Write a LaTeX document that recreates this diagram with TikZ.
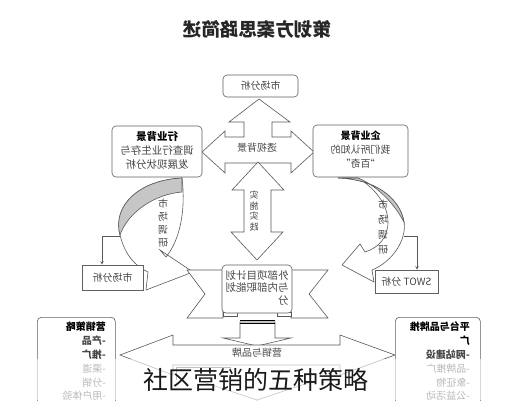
\documentclass[tikz,border=0pt]{standalone}
\usepackage{fontspec}
\usepackage{graphicx}
\setmainfont{Noto Sans CJK SC}
\newcommand{\mir}[1]{\reflectbox{#1}}
\begin{document}
\begin{tikzpicture}[x=1pt,y=-1pt,
  rbox/.style={draw=gray!75!black, line width=0.6pt, rounded corners=4pt, fill=white, inner sep=0pt},
  sbox/.style={draw=gray!75!black, line width=0.6pt, fill=white, inner sep=0pt},
  shp/.style={draw=gray!70!black, line width=0.6pt, fill=white, line join=miter},
  tx/.style={text=gray!55!black},
  fz/.style={font=\fontsize{#1}{#1}\selectfont}]
\useasboundingbox (0,0) rectangle (514,400);
\fill[white] (0,0) rectangle (514,400);
\clip (0,0) rectangle (514,400);

% title
\node[text=black!85] (title) at (257,29) {\mir{\fontsize{18.5}{20}\selectfont\bfseries 策划方案思路简述}};

% top box
\node[rbox, minimum width=75pt, minimum height=22pt, tx, fz=10] (top) at (260.5,86) {\mir{市场分析}};

% central cross arrow
\draw[shp] (202,152) -- (225,131) -- (225,137) -- (244,137) -- (244,122) -- (229,122) -- (259,99)
  -- (290,122) -- (272,122) -- (272,137) -- (291,137) -- (291,131) -- (314,152) -- (291,173)
  -- (291,163) -- (225,163) -- (225,173) -- cycle;
\node[tx, fz=10] (bg) at (257,148) {\mir{透视背景}};

% vertical double arrow
\draw[shp] (258,162) -- (284,190) -- (271,190) -- (271,232) -- (283,232) -- (257,260)
  -- (231,232) -- (244,232) -- (244,190) -- (232,190) -- cycle;
\node[tx, inner sep=0pt] (ss) at (254,212) {\mir{\fontsize{9}{10}\selectfont\begin{tabular}{@{}c@{}}实\\施\\实\\践\end{tabular}}};

% side boxes
\node[rbox, minimum width=90pt, minimum height=51pt, tx] (lb) at (157,151.5)
  {\mir{\fontsize{10.5}{14}\selectfont\begin{tabular}{@{}c@{}}\textcolor{black}{\bfseries 行业背景}\\ 调查行业生存与\\ 发展现状分析\end{tabular}}};
\node[rbox, minimum width=95pt, minimum height=52pt, tx] (rb) at (360.5,151)
  {\mir{\fontsize{10}{14}\selectfont\begin{tabular}{@{}c@{}}\textcolor{black}{\bfseries 企业背景}\\ 我们所认知的\\ “百奇”\end{tabular}}};

% right curved arrow
\draw[shp] (338,178) .. controls (375,179) and (400,198) .. (404,222)
  .. controls (407,240) and (392,262) .. (372,270) -- (374,282) -- (342,265) -- (360,244) -- (365,252)
  .. controls (378,248) and (388,238) .. (388,222) .. controls (388,205) and (375,188) .. (358,178) -- cycle;
\draw[shp, fill=gray!45] (338,178) .. controls (375,179) and (400,198) .. (404,222)
  .. controls (392,200) and (375,185) .. (358,178) -- cycle;
\node[tx, inner sep=0pt] (rt) at (383,228) {\mir{\fontsize{10}{15}\selectfont\begin{tabular}{@{}c@{}}市\\场\\调\\研\end{tabular}}};

% left curved arrow
\draw[shp] (182,178) .. controls (140,180) and (112,205) .. (120,235)
  .. controls (125,255) and (135,266) .. (148,272) -- (146,290) -- (193,272) -- (160,250) -- (166,257)
  .. controls (180,240) and (186,210) .. (182,178) -- cycle;
\draw[shp, fill=gray!45] (182,178) .. controls (140,180) and (112,205) .. (120,235)
  .. controls (128,212) and (155,194) .. (182,192) -- cycle;
\node[tx, inner sep=0pt] (lt) at (163,224) {\mir{\fontsize{10}{13}\selectfont\begin{tabular}{@{}c@{}}市\\场\\调\\研\end{tabular}}};

% small boxes
\node[sbox, minimum width=61pt, minimum height=25pt, tx, fz=10] (lm) at (112.5,277.5) {\mir{市场分析}};
\node[sbox, minimum width=63pt, minimum height=23pt, tx, fz=10] (sw) at (406.5,281.5) {\mir{SWOT 分析}};
\coordinate (lc) at (102,236);
\coordinate (rc) at (417,236);
\draw[gray!70!black, line width=0.6pt] (120,236) -- (lc);
\draw[gray!70!black, line width=0.6pt, -stealth] (lc) -- (lm.north -| lc);
\draw[gray!70!black, line width=0.6pt] (404,236) -- (rc);
\draw[gray!70!black, line width=0.6pt, -stealth] (rc) -- (sw.north -| rc);

% ribbon
\draw[shp] (187,270) -- (223,270) -- (223,318) -- (187,318) -- (205,294) -- cycle;
\draw[shp] (291,270) -- (328,270) -- (309,294) -- (328,318) -- (291,318) -- cycle;
\draw[shp] (223,312) rectangle (237,316);
\draw[shp] (277,312) rectangle (291,316);
\node[rbox, minimum width=70pt, minimum height=48pt, tx] (cb) at (257,289)
  {\mir{\fontsize{10.5}{12.5}\selectfont\begin{tabular}{@{}l@{}}外部项目计划\\与内部职能划\\分\end{tabular}}};

% down arrow
\draw[shp] (240,322) -- (240,338) -- (223,338) -- (257,346) -- (291,338) -- (275,338) -- (275,322) -- cycle;
\draw[black, line width=1pt] (240,320.5) -- (275,320.5) (240,323.5) -- (275,323.5);

% big horizontal double arrow
\draw[shp] (120,355) -- (173,335) -- (173,345) -- (340,345) -- (340,335) -- (395,355) -- (340,375)
  -- (340,365) -- (173,365) -- (173,375) -- cycle;
\node[tx, fz=10] (mb) at (257,353) {\mir{营销与品牌}};

% lower partial shapes
\draw[shp] (176,367) -- (176,380) (176,367) -- (230,367) -- (230,372);
\draw[shp] (203,382) -- (257,400) -- (311,382);

% bottom boxes
\node[rbox, anchor=north west, minimum width=78pt, minimum height=100pt] (bl) at (37,317) {};
\node[rbox, anchor=north west, minimum width=85pt, minimum height=100pt] (br) at (395,317) {};
\node[anchor=north east, inner sep=0pt, tx] (blt) at (106,321)
  {\mir{\fontsize{10}{13.8}\selectfont\begin{tabular}{@{}l@{}}\textcolor{black}{\bfseries 营销策略}\\ \bfseries -产品\\ \bfseries -推广\\ -渠道\\ -分销\\ -用户体验\end{tabular}}};
\node[anchor=north east, inner sep=0pt, tx] (brt) at (470,321)
  {\mir{\fontsize{10}{13.8}\selectfont\begin{tabular}{@{}l@{}}\textcolor{black}{\bfseries 平台与品牌推}\\ \textcolor{black}{\bfseries 广}\\ \bfseries -网站建设\\ -品牌推广\\ -象征物\\ -公益活动\end{tabular}}};

% caption band
\fill[white, opacity=0.62] (0,359) rectangle (514,400);
\node[text=black!90, inner sep=0pt] (cap) at (256,380) {\fontsize{25}{27}\selectfont 社区营销的五种策略};
\end{tikzpicture}
\end{document}
